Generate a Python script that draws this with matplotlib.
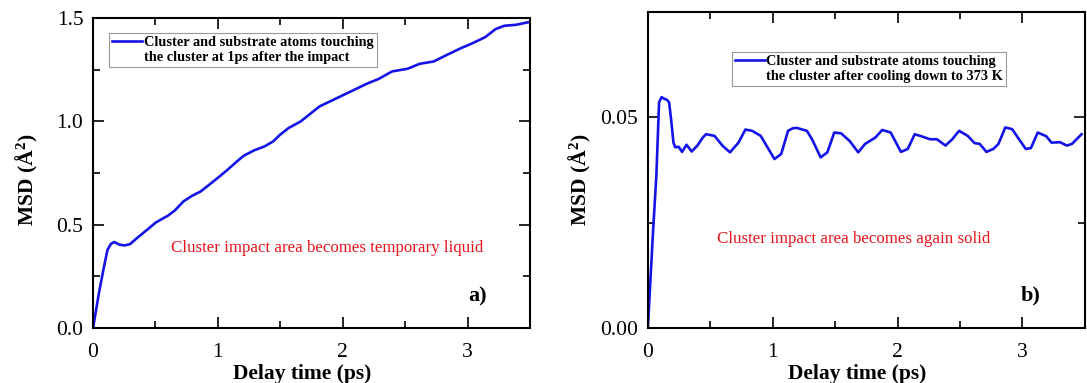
import matplotlib
matplotlib.use("Agg")
import matplotlib.pyplot as plt
from matplotlib.lines import Line2D
from matplotlib.ticker import MultipleLocator, FormatStrFormatter

# panel a) MSD, 1 ps after impact
t_a = [0, 0.047, 0.088, 0.116, 0.144, 0.171, 0.213, 0.254, 0.296, 0.351, 0.434, 0.503,
       0.6, 0.655, 0.724, 0.793, 0.862, 0.931, 1.014, 1.083, 1.152, 1.207, 1.29, 1.373,
       1.442, 1.497, 1.566, 1.663, 1.746, 1.815, 1.898, 1.981, 2.036, 2.119, 2.202,
       2.285, 2.395, 2.519, 2.616, 2.727, 2.837, 2.948, 3.03, 3.141, 3.224, 3.293,
       3.39, 3.5]
msd_a = [0, 0.169, 0.298, 0.379, 0.408, 0.416, 0.403, 0.4, 0.406, 0.435, 0.476, 0.511,
         0.544, 0.569, 0.613, 0.64, 0.661, 0.694, 0.734, 0.769, 0.806, 0.834, 0.86,
         0.879, 0.903, 0.935, 0.968, 1.0, 1.04, 1.073, 1.097, 1.121, 1.137, 1.161,
         1.185, 1.205, 1.242, 1.255, 1.279, 1.29, 1.323, 1.355, 1.376, 1.408, 1.447,
         1.463, 1.468, 1.482]

# panel b) MSD after cooling down to 373 K
t_b = [0, 0.041, 0.068, 0.09, 0.11, 0.132, 0.151, 0.17, 0.186, 0.205, 0.219, 0.247,
       0.274, 0.31, 0.351, 0.397, 0.44, 0.466, 0.534, 0.6, 0.658, 0.726, 0.781, 0.836,
       0.904, 0.96, 1.014, 1.068, 1.123, 1.16, 1.192, 1.274, 1.315, 1.384, 1.438,
       1.493, 1.548, 1.616, 1.685, 1.74, 1.822, 1.877, 1.945, 2.027, 2.082, 2.137,
       2.192, 2.26, 2.315, 2.384, 2.438, 2.493, 2.562, 2.616, 2.658, 2.712, 2.767,
       2.808, 2.863, 2.918, 2.973, 3.027, 3.068, 3.123, 3.192, 3.233, 3.301, 3.356,
       3.397, 3.474]
msd_b = [0, 0.0226, 0.0361, 0.0536, 0.0548, 0.0544, 0.0542, 0.0536, 0.0496, 0.044,
         0.0429, 0.043, 0.0418, 0.0435, 0.0419, 0.0433, 0.0452, 0.046, 0.0456, 0.0432,
         0.0417, 0.044, 0.0471, 0.0468, 0.0456, 0.0428, 0.0401, 0.0413, 0.0468, 0.0474,
         0.0475, 0.0468, 0.0448, 0.0405, 0.0417, 0.0464, 0.0462, 0.0444, 0.0417, 0.0437,
         0.0452, 0.047, 0.0464, 0.0418, 0.0425, 0.046, 0.0455, 0.0448, 0.0448, 0.0433,
         0.0448, 0.0468, 0.0456, 0.0439, 0.0437, 0.0418, 0.0425, 0.0437, 0.0476, 0.0472,
         0.0448, 0.0425, 0.0427, 0.0464, 0.0455, 0.044, 0.0441, 0.0433, 0.0437, 0.046]

plt.rcParams['font.family'] = ['Liberation Serif', 'DejaVu Serif']
plt.rcParams['mathtext.fontset'] = 'custom'
plt.rcParams['mathtext.rm'] = 'Liberation Serif'
plt.rcParams['mathtext.bf'] = 'Liberation Serif:bold'

fig = plt.figure(figsize=(10.87, 3.83), dpi=100)
ax1 = fig.add_axes([0.0856, 0.1436, 0.402, 0.809])
ax2 = fig.add_axes([0.596, 0.1436, 0.402, 0.825])


def style(ax, ymajor, yminor):
    ax.xaxis.set_major_locator(MultipleLocator(1))
    ax.xaxis.set_minor_locator(MultipleLocator(0.5))
    ax.yaxis.set_major_locator(MultipleLocator(ymajor))
    ax.yaxis.set_minor_locator(MultipleLocator(yminor))
    ax.tick_params(which='both', direction='in', top=True, right=True, labelsize=15.5, width=1.2)
    ax.tick_params(which='major', length=8)
    ax.tick_params(axis='y', which='major', pad=7)
    ax.tick_params(axis='x', which='major', pad=10.5)
    ax.tick_params(which='minor', length=5)
    for s in ax.spines.values():
        s.set_linewidth(1.5)
    ax.set_xlabel('Delay time (ps)', fontsize=15.5, fontweight='bold')
    ax.set_ylabel(r'MSD ($\mathbf{\AA^2}$)', fontsize=15.5, fontweight='bold')


def legend2(ax, line, l1, l2, anchor):
    blank = Line2D([], [], color='none')
    leg = ax.legend([line, blank], [l1, l2], loc='upper left', bbox_to_anchor=anchor,
                    prop={'weight': 'bold', 'size': 10.3}, handlelength=2.1,
                    handletextpad=0.1, labelspacing=0.12, borderpad=0.22,
                    borderaxespad=0, fancybox=False, framealpha=1, edgecolor='#999999')
    leg.get_frame().set_linewidth(0.8)
    return leg


line1, = ax1.plot(t_a, msd_a, color='#1414e6', lw=1.9, solid_joinstyle='round')
ax1.set_xlim(0, 3.5)
ax1.set_ylim(0, 1.5)
style(ax1, 0.5, 0.25)
ax1.yaxis.set_major_formatter(FormatStrFormatter('%.1f'))
legend2(ax1, line1, 'Cluster and substrate atoms touching',
        'the cluster at 1ps after the impact', (0.037, 0.952))
ax1.text(0.535, 0.258, 'Cluster impact area becomes temporary liquid',
         transform=ax1.transAxes, color='#e8141c', fontsize=12.2, ha='center', va='center')
ax1.text(0.881, 0.103, 'a)', transform=ax1.transAxes, fontsize=16, fontweight='bold',
         ha='center', va='center')
ax1.xaxis.set_label_coords(0.478, -0.115)
ax1.yaxis.set_label_coords(-0.121, 0.477)

line2, = ax2.plot(t_b, msd_b, color='#1414e6', lw=1.9, solid_joinstyle='round')
ax2.set_xlim(0, 3.5)
ax2.set_ylim(0, 0.075)
style(ax2, 0.05, 0.025)
ax2.yaxis.set_major_formatter(FormatStrFormatter('%.2f'))
legend2(ax2, line2, 'Cluster and substrate atoms touching',
        'the cluster after cooling down to 373 K', (0.192, 0.873))
ax2.text(0.471, 0.282, 'Cluster impact area becomes again solid',
         transform=ax2.transAxes, color='#e8141c', fontsize=12.2, ha='center', va='center')
ax2.text(0.876, 0.104, 'b)', transform=ax2.transAxes, fontsize=16, fontweight='bold',
         ha='center', va='center')
ax2.xaxis.set_label_coords(0.478, -0.113)
ax2.yaxis.set_label_coords(-0.126, 0.468)

fig.savefig('out.png', dpi=100)
